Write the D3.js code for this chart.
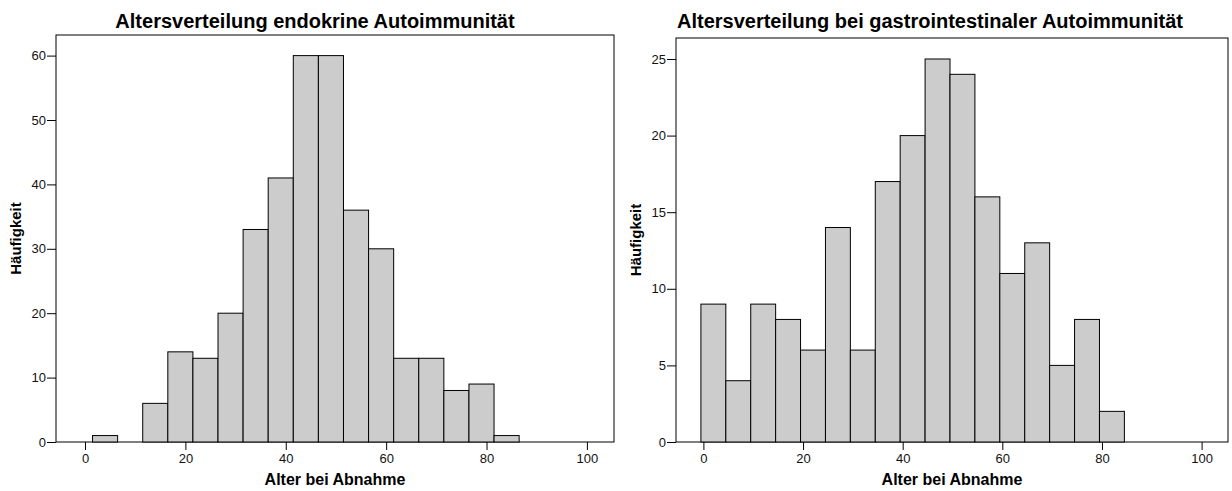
<!DOCTYPE html>
<html>
<head>
<meta charset="utf-8">
<script src="https://cdn.jsdelivr.net/npm/d3@7"></script>
<style>
  body { margin: 0; background: #fff; }
  text { font-family: "Liberation Sans", Arial, sans-serif; }
</style>
</head>
<body>
<div id="vis"></div>
<script>
// Declare constants
const WIDTH = 1232;
const HEIGHT = 491;

// Data: bin start ages (width 5) and counts
const ENDO_BIN_STARTS = [1.5, 6.5, 11.5, 16.5, 21.5, 26.5, 31.5, 36.5, 41.5, 46.5, 51.5, 56.5, 61.5, 66.5, 71.5, 76.5, 81.5];
const ENDO_COUNTS = [1, 0, 6, 14, 13, 20, 33, 41, 60, 60, 36, 30, 13, 13, 8, 9, 1];

const GASTRO_BIN_STARTS = [-0.5, 4.5, 9.5, 14.5, 19.5, 24.5, 29.5, 34.5, 39.5, 44.5, 49.5, 54.5, 59.5, 64.5, 69.5, 74.5, 79.5];
const GASTRO_COUNTS = [9, 4, 9, 8, 6, 14, 6, 17, 20, 25, 24, 16, 11, 13, 5, 8, 2];

const BIN_WIDTH = 5;
const X_TICKS = [0, 20, 40, 60, 80, 100];
const ENDO_Y_TICKS = [0, 10, 20, 30, 40, 50, 60];
const GASTRO_Y_TICKS = [0, 5, 10, 15, 20, 25];

const SVG = d3.select("#vis")
  .append("svg")
    .attr("width", WIDTH)
    .attr("height", HEIGHT);

function drawHist(opt) {
  const x = d3.scaleLinear().domain(opt.xDomain).range([opt.left, opt.right]);
  const y = d3.scaleLinear().domain(opt.yDomain).range([opt.bottom, opt.top]);
  const g = SVG.append("g");

  // frame
  g.append("rect")
    .attr("x", opt.left).attr("y", opt.top)
    .attr("width", opt.right - opt.left).attr("height", opt.bottom - opt.top)
    .attr("fill", "none").attr("stroke", "#000").attr("stroke-width", 1);

  // bars
  const bins = opt.starts.map((s, i) => ({x0: s, x1: s + BIN_WIDTH, n: opt.counts[i]}))
                         .filter(d => d.n > 0);
  g.selectAll("rect.bar").data(bins).enter()
    .append("rect")
      .attr("class", "bar")
      .attr("x", d => x(d.x0))
      .attr("y", d => y(d.n))
      .attr("width", d => x(d.x1) - x(d.x0))
      .attr("height", d => y(0) - y(d.n))
      .attr("fill", "#cccccc")
      .attr("stroke", "#000")
      .attr("stroke-width", 1);

  // axes
  const xAxis = g.append("g")
    .attr("transform", `translate(0,${opt.bottom})`)
    .call(d3.axisBottom(x).tickValues(X_TICKS).tickSize(8).tickPadding(4).tickFormat(d3.format("d")));
  const yAxis = g.append("g")
    .attr("transform", `translate(${opt.left},0)`)
    .call(d3.axisLeft(y).tickValues(opt.yTicks).tickSize(9).tickPadding(1).tickFormat(d3.format("d")));
  [xAxis, yAxis].forEach(a => {
    a.select(".domain").remove();
    a.selectAll("line").attr("stroke", "#000");
    a.selectAll("text").attr("fill", "#111").style("font-size", "13px")
      .style("font-family", "'Liberation Sans', Arial, sans-serif");
  });

  // title + labels
  g.append("text")
    .attr("x", opt.titleX).attr("y", 28)
    .attr("text-anchor", "middle")
    .style("font-size", "20px").style("font-weight", "bold")
    .text(opt.title);
  g.append("text")
    .attr("x", (opt.left + opt.right) / 2).attr("y", 485)
    .attr("text-anchor", "middle")
    .style("font-size", "16px").style("font-weight", "bold")
    .text("Alter bei Abnahme");
  g.append("text")
    .attr("transform", `translate(${opt.yLabelX},${(opt.top + opt.bottom) / 2}) rotate(-90)`)
    .attr("text-anchor", "middle")
    .style("font-size", "15px").style("font-weight", "bold")
    .text("Häufigkeit");
}

drawHist({
  title: "Altersverteilung endokrine Autoimmunität",
  titleX: 315,
  starts: ENDO_BIN_STARTS, counts: ENDO_COUNTS, yTicks: ENDO_Y_TICKS,
  left: 56, right: 614, top: 35, bottom: 442,
  xDomain: [-5.78, 105.4], yDomain: [0, 63.2],
  yLabelX: 21
});

drawHist({
  title: "Altersverteilung bei gastrointestinaler Autoimmunität",
  titleX: 930,
  starts: GASTRO_BIN_STARTS, counts: GASTRO_COUNTS, yTicks: GASTRO_Y_TICKS,
  left: 676, right: 1228, top: 38, bottom: 442,
  xDomain: [-5.5, 105.3], yDomain: [0, 26.37],
  yLabelX: 641
});
</script>
</body>
</html>
